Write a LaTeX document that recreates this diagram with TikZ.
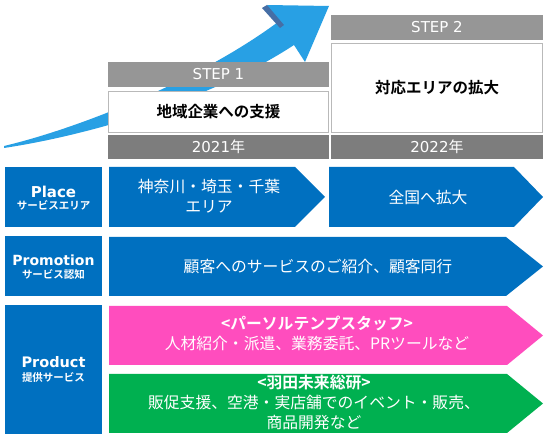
\documentclass[tikz,border=0pt]{standalone}
\usepackage{fontspec}
\setmainfont{Noto Sans CJK JP}[BoldFont={Noto Sans CJK JP Bold}]
\newfontfamily\lat{DejaVu Sans}
\definecolor{mblue}{RGB}{0,112,192}
\definecolor{mpink}{RGB}{255,77,190}
\definecolor{mgreen}{RGB}{0,176,80}
\definecolor{sky}{RGB}{40,160,228}
\definecolor{skydark}{RGB}{70,110,165}
\definecolor{stepgray}{RGB}{150,150,150}
\definecolor{yeargray}{RGB}{125,125,125}
\definecolor{boxline}{RGB}{185,185,185}
\tikzset{
  bartxt/.style={text=white,font=\fontsize{15}{17}\selectfont},
  headtxt/.style={text=black,font=\bfseries\fontsize{15.5}{19}\selectfont},
  rowtxt/.style={text=white,align=center,font=\fontsize{15.8}{20}\selectfont},
  labtxt/.style={text=white,align=center},
}
\begin{document}
\begin{tikzpicture}[x=1pt,y=-1pt]
\useasboundingbox (0,0) rectangle (550,438);
\fill[white] (0,0) rectangle (550,438);
% swoosh arrow
\fill[sky] (4,146) .. controls (80,128) and (200,80) .. (278,22)
  -- (267,5) -- (329,6) -- (305,62) -- (294,45)
  .. controls (210,100) and (90,135) .. (4,148) -- cycle;
\fill[skydark] (262,8) -- (267,5) -- (284,25) -- (280,28) -- cycle;
% top boxes
\fill[stepgray] (108,62) rectangle (329,87);
\node[bartxt] (s1) at (218.5,74.5) {\lat STEP 1};
\filldraw[fill=white,draw=boxline,line width=0.8pt] (108.5,91) rectangle (328.5,132);
\node[headtxt] (h1) at (218.5,111.5) {地域企業への支援};
\fill[yeargray] (108,135) rectangle (329,159);
\node[bartxt] (y1) at (218.5,147) {{\lat 2021}年};
\fill[stepgray] (331,15) rectangle (543,40);
\node[bartxt] (s2) at (437,27.5) {\lat STEP 2};
\filldraw[fill=white,draw=boxline,line width=0.8pt] (331.5,43.5) rectangle (542.5,132);
\node[headtxt] (h2) at (437,87.5) {対応エリアの拡大};
\fill[yeargray] (331,135) rectangle (543,159);
\node[bartxt] (y2) at (437,147) {{\lat 2022}年};
% label boxes
\fill[mblue] (5,167) rectangle (102,227);
\fill[mblue] (5,236) rectangle (102,296);
\fill[mblue] (5,305) rectangle (102,434);
\node[labtxt,font=\lat\bfseries\fontsize{15}{16}\selectfont] (pl) at (53.5,191.5) {Place};
\node[labtxt,font=\bfseries\fontsize{10.5}{12}\selectfont] (pls) at (53.5,205.5) {サービスエリア};
\node[labtxt,font=\lat\bfseries\fontsize{14}{16}\selectfont] (pr) at (53.5,260.5) {Promotion};
\node[labtxt,font=\bfseries\fontsize{10.5}{12}\selectfont] (prs) at (53.5,274) {サービス認知};
\node[labtxt,font=\lat\bfseries\fontsize{14.5}{16}\selectfont] (pd) at (53.5,362.5) {Product};
\node[labtxt,font=\bfseries\fontsize{10.5}{12}\selectfont] (pds) at (53.5,377) {提供サービス};
% chevrons
\fill[mblue] (109,167) -- (295,167) -- (325,197) -- (295,227) -- (109,227) -- cycle;
\fill[mblue] (329,167) -- (514,167) -- (543,197) -- (514,227) -- (329,227) -- cycle;
\fill[mblue] (109,237) -- (506,237) -- (543,266.5) -- (506,296) -- (109,296) -- cycle;
\fill[mpink] (109,306) -- (507,306) -- (543,335.5) -- (507,365) -- (109,365) -- cycle;
\fill[mgreen] (109,374) -- (507,374) -- (543,403.5) -- (507,433) -- (109,433) -- cycle;
\node[rowtxt] (t1) at (209,196.5) {神奈川・埼玉・千葉\\エリア};
\node[rowtxt] (t2) at (428,197) {全国へ拡大};
\node[rowtxt] (t3) at (318,266) {顧客へのサービスのご紹介、顧客同行};
\node[rowtxt] (t4) at (317,333) {\textbf{<パーソルテンプスタッフ>}\\人材紹介・派遣、業務委託、PRツールなど};
\node[rowtxt] (t5) at (314,402.5) {\textbf{<羽田未来総研>}\\販促支援、空港・実店舗でのイベント・販売、\\商品開発など};
\end{tikzpicture}
\end{document}
